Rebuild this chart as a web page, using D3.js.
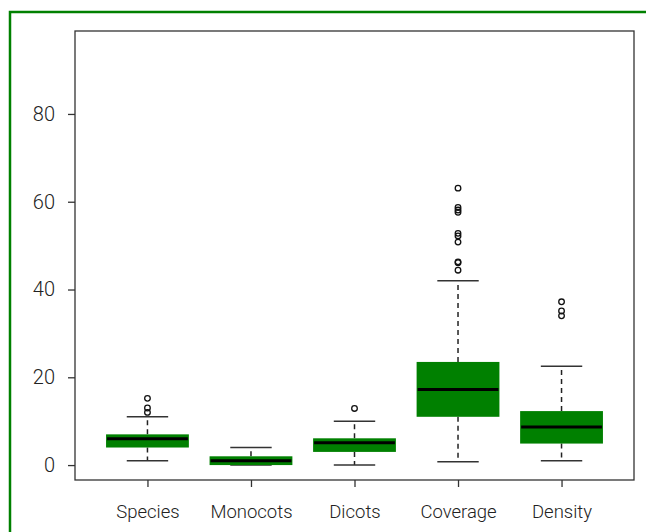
<!DOCTYPE html>
<html>
<head>
<meta charset="utf-8">
<script src="https://cdn.jsdelivr.net/npm/d3@7"></script>
<style>
  body { margin: 0; background: #fff; overflow: hidden; }
  svg text { font-family: Roboto, "DejaVu Sans", sans-serif; fill: #222; }
</style>
</head>
<body>
<svg id="vis" width="646" height="532"></svg>
<script>
// box stats
const categories = ["Species", "Monocots", "Dicots", "Coverage", "Density"];
const lowerWhisker = [1, 0, 0, 0.75, 1];
const q1 = [4, 0, 3, 11, 4.9];
const median = [6, 1, 5.1, 17.2, 8.7];
const q3 = [7, 2, 6.1, 23.5, 12.3];
const upperWhisker = [11, 4, 10, 42, 22.5];
const outliers = [
  [12, 13, 15.2],
  [],
  [12.9],
  [44.4, 46.1, 46.3, 50.8, 52.2, 52.8, 57.6, 58.1, 58.7, 63.1],
  [34, 35.1, 37.2]
];
const yTicks = [0, 20, 40, 60, 80];

const svg = d3.select("svg#vis");

// outer green frame, runs off the right/bottom edge
svg.append("rect")
  .attr("x", 10).attr("y", 12)
  .attr("width", 700).attr("height", 600)
  .attr("fill", "none")
  .attr("stroke", "#008000")
  .attr("stroke-width", 2.5);

const plot = { left: 75, top: 31, right: 634, bottom: 480 };

const x = d3.scalePoint()
  .domain(categories)
  .range([plot.left, plot.right])
  .padding(0.7);

const y = d3.scaleLinear()
  .domain([-3.4, 98.9])
  .range([plot.bottom, plot.top]);

const step = x.step();
const boxW = step * 0.8;
const capW = step * 0.4;

const rows = categories.map((c, i) => ({
  name: c,
  lo: lowerWhisker[i], q1: q1[i], med: median[i], q3: q3[i], hi: upperWhisker[i],
  out: outliers[i]
}));

const g = svg.append("g");

// whiskers (dashed)
g.selectAll("line.whisk-up")
  .data(rows)
  .enter().append("line")
  .attr("x1", d => x(d.name)).attr("x2", d => x(d.name))
  .attr("y1", d => y(d.q3)).attr("y2", d => y(d.hi))
  .attr("stroke", "#222").attr("stroke-width", 1.5)
  .attr("stroke-dasharray", "5,4");

g.selectAll("line.whisk-down")
  .data(rows)
  .enter().append("line")
  .attr("x1", d => x(d.name)).attr("x2", d => x(d.name))
  .attr("y1", d => y(d.q1)).attr("y2", d => y(d.lo))
  .attr("stroke", "#222").attr("stroke-width", 1.5)
  .attr("stroke-dasharray", "5,4");

// caps
["hi", "lo"].forEach(k => {
  g.selectAll("line.cap-" + k)
    .data(rows)
    .enter().append("line")
    .attr("x1", d => x(d.name) - capW / 2).attr("x2", d => x(d.name) + capW / 2)
    .attr("y1", d => y(d[k])).attr("y2", d => y(d[k]))
    .attr("stroke", "#333").attr("stroke-width", 1.5);
});

// boxes
g.selectAll("rect.box")
  .data(rows)
  .enter().append("rect")
  .attr("x", d => x(d.name) - boxW / 2)
  .attr("width", boxW)
  .attr("y", d => y(d.q3))
  .attr("height", d => y(d.q1) - y(d.q3))
  .attr("fill", "#008000");

// medians
g.selectAll("line.median")
  .data(rows)
  .enter().append("line")
  .attr("x1", d => x(d.name) - boxW / 2 + 1).attr("x2", d => x(d.name) + boxW / 2 - 1)
  .attr("y1", d => y(d.med)).attr("y2", d => y(d.med))
  .attr("stroke", "#000").attr("stroke-width", 3);

// outliers
rows.forEach(r => {
  g.selectAll(null)
    .data(r.out)
    .enter().append("circle")
    .attr("cx", x(r.name))
    .attr("cy", v => y(v))
    .attr("r", 2.8)
    .attr("fill", "none")
    .attr("stroke", "#111")
    .attr("stroke-width", 1.3);
});

// plot frame
svg.append("rect")
  .attr("x", plot.left).attr("y", plot.top)
  .attr("width", plot.right - plot.left)
  .attr("height", plot.bottom - plot.top)
  .attr("fill", "none")
  .attr("stroke", "#333")
  .attr("stroke-width", 1.3);

// axes
const yAxis = d3.axisLeft(y).tickValues(yTicks).tickSize(7).tickPadding(13);
const yG = svg.append("g")
  .attr("transform", "translate(" + plot.left + ",0)")
  .call(yAxis);
yG.select(".domain").remove();
yG.selectAll(".tick line").attr("stroke", "#333").attr("stroke-width", 1.3);
yG.selectAll("text").style("font-size", "20px").style("font-weight", 300).style("fill", "#222");

const xAxis = d3.axisBottom(x).tickSize(7).tickPadding(18);
const xG = svg.append("g")
  .attr("transform", "translate(0," + plot.bottom + ")")
  .call(xAxis);
xG.select(".domain").remove();
xG.selectAll(".tick line").attr("stroke", "#333").attr("stroke-width", 1.3);
xG.selectAll("text").style("font-size", "18.5px").style("font-weight", 300).style("fill", "#222");
</script>
</body>
</html>
